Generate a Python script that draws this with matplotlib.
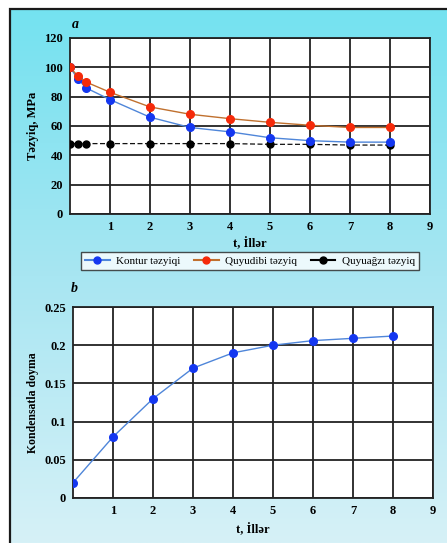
import matplotlib
matplotlib.use("Agg")
import matplotlib.pyplot as plt
import numpy as np
from matplotlib.patches import Rectangle

# data
t_pres = [0, 0.2, 0.4, 1, 2, 3, 4, 5, 6, 7, 8]
kontur = [100, 92, 86, 78, 66, 59, 56, 52, 50, 49, 49]
quyudibi = [100, 94, 90, 83, 73, 68, 65, 62.5, 60.5, 59, 59]
quyuagzi = [48, 48, 48, 48, 48, 48, 48, 47.5, 47.5, 47, 47]

t_sat = [0, 1, 2, 3, 4, 5, 6, 7, 8]
doyma = [0.02, 0.08, 0.13, 0.17, 0.19, 0.2, 0.206, 0.209, 0.212]

pres_ticks = [0, 20, 40, 60, 80, 100, 120]
sat_ticks = [0, 0.05, 0.1, 0.15, 0.2, 0.25]
sat_labels = ["0", "0.05", "0.1", "0.15", "0.2", "0.25"]
x_ticks = [1, 2, 3, 4, 5, 6, 7, 8, 9]

labels = ["Kontur təzyiqi", "Quyudibi təzyiq", "Quyuağzı təzyiq"]

plt.rcParams['font.family'] = ['Liberation Serif', 'DejaVu Serif']

W, H = 447, 543
fig = plt.figure(figsize=(W / 100, H / 100), dpi=100, facecolor='white')

# cyan page background with a frame
bg = fig.add_axes([0, 0, 1, 1], zorder=-10)
grad = np.linspace(0, 1, 256).reshape(-1, 1)
cmap = matplotlib.colors.LinearSegmentedColormap.from_list(
    'bg', ['#d6f1f7', '#a8e6f2', '#74e2f0'])
bg.imshow(grad, aspect='auto', cmap=cmap, origin='lower',
          extent=[10 / W, 1, 0, 1 - 9 / H])
bg.set_xlim(0, 1)
bg.set_ylim(0, 1)
bg.add_patch(Rectangle((10 / W, -0.1), 1.2, 1.1 - 9 / H, fill=False,
                       edgecolor='#1a1a1a', linewidth=1.6))
bg.axis('off')

blue_m, blue_l = '#1437f0', '#4f86d9'
red_m, red_l = '#f52a0a', '#c0702e'


def style(ax):
    ax.set_xlim(0, 9)
    ax.set_xticks(x_ticks)
    ax.grid(True, color='#222222', linewidth=1.3)
    ax.tick_params(length=0, labelsize=9, pad=5)
    for lab in ax.get_xticklabels() + ax.get_yticklabels():
        lab.set_fontweight('bold')
    for s in ax.spines.values():
        s.set_linewidth(1.3)
        s.set_color('#222222')
    ax.set_facecolor('white')
    ax.set_axisbelow(True)


# a: pressures
ax1 = fig.add_axes([70 / W, 1 - 214 / H, 360 / W, 176 / H])
ax1.plot(t_pres, quyuagzi, color='#111111', linestyle=(0, (4, 2)),
         linewidth=0.9, marker='o', markersize=5, markerfacecolor='black',
         markeredgecolor='black', label=labels[2], zorder=3)
ax1.plot(t_pres, kontur, color=blue_l, linewidth=1.0, marker='o',
         markersize=5.5, markerfacecolor=blue_m, markeredgecolor=blue_m,
         label=labels[0], zorder=4)
ax1.plot(t_pres, quyudibi, color=red_l, linewidth=1.0, marker='o',
         markersize=5.5, markerfacecolor=red_m, markeredgecolor=red_m,
         label=labels[1], zorder=5)
ax1.set_ylim(0, 120)
ax1.set_yticks(pres_ticks)
style(ax1)
ax1.set_ylabel('Təzyiq, MPa', fontsize=9, fontweight='bold', labelpad=4)
ax1.set_xlabel('t, İllər', fontsize=9, fontweight='bold', labelpad=3)
fig.text(75 / W, 1 - 24 / H, 'a', fontsize=10, fontweight='bold',
         style='italic', ha='center', va='center')

# legend between panels
hdl = [
    plt.Line2D([], [], color=blue_l, marker='o', markersize=5,
               markerfacecolor=blue_m, markeredgecolor=blue_m),
    plt.Line2D([], [], color=red_l, marker='o', markersize=5,
               markerfacecolor=red_m, markeredgecolor=red_m),
    plt.Line2D([], [], color='black', linewidth=1.5, marker='o',
               markersize=5, markerfacecolor='black'),
]
leg = fig.legend(hdl, labels, loc='center', ncol=3,
                 bbox_to_anchor=(250 / W, 1 - 261 / H), fontsize=8,
                 frameon=True, fancybox=False, edgecolor='#222222',
                 handlelength=2.2, handletextpad=0.6, columnspacing=1.2,
                 borderpad=0.35)
leg.get_frame().set_linewidth(1.0)
leg.get_frame().set_facecolor('white')

# b: condensate saturation
ax2 = fig.add_axes([73 / W, 1 - 498 / H, 360 / W, 191 / H])
ax2.plot(t_sat, doyma, color=blue_l, linewidth=1.0, marker='o',
         markersize=5.5, markerfacecolor=blue_m, markeredgecolor=blue_m,
         zorder=4)
ax2.set_ylim(0, 0.25)
ax2.set_yticks(sat_ticks)
ax2.set_yticklabels(sat_labels)
style(ax2)
ax2.set_ylabel('Kondensatla doyma', fontsize=8.5, fontweight='bold',
               labelpad=4)
ax2.set_xlabel('t, İllər', fontsize=9, fontweight='bold', labelpad=5)
fig.text(74 / W, 1 - 288 / H, 'b', fontsize=10, fontweight='bold',
         style='italic', ha='center', va='center')

fig.savefig('out.png', dpi=100)
